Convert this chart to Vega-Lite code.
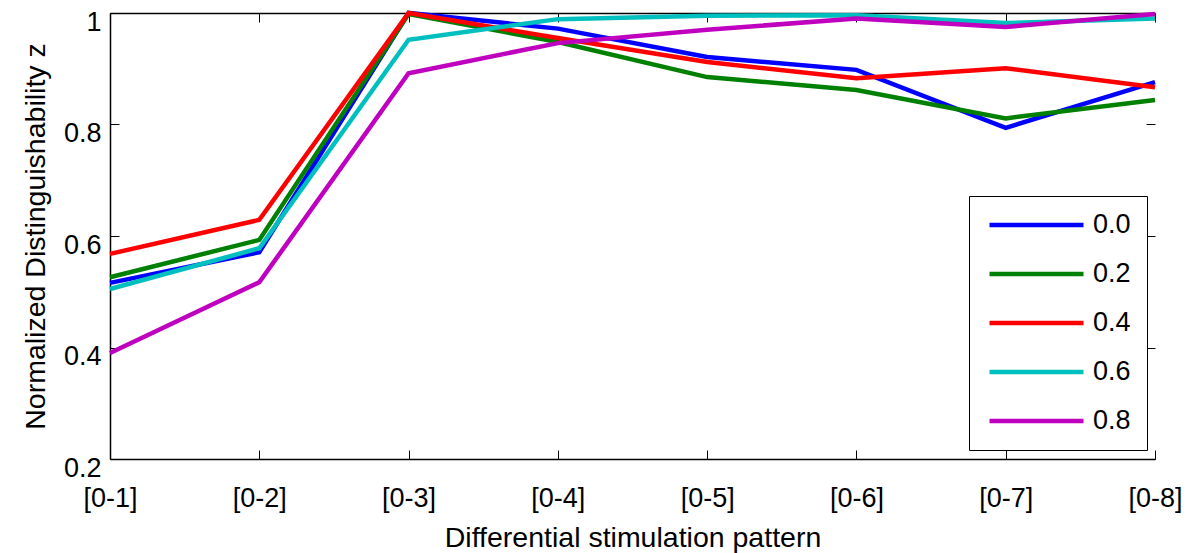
{
  "$schema": "https://vega.github.io/schema/vega-lite/v6.json",
  "width": 1045,
  "height": 446,
  "autosize": {"type": "none"},
  "padding": {"left": 110, "top": 13, "right": 40, "bottom": 94},
  "background": "white",
  "config": {
    "view": {"stroke": null},
    "font": "Liberation Sans",
    "axis": {"grid": false, "domainColor": "black", "tickColor": "black", "labelColor": "black", "titleColor": "black", "labelFont": "Liberation Sans", "titleFont": "Liberation Sans", "titleFontWeight": "normal", "labelFontSize": 27, "titleFontSize": 28.5}
  },
  "data": {"values": [
    {"p": "[0-1]", "s": "0.0", "v": 0.516}, {"p": "[0-2]", "s": "0.0", "v": 0.571}, {"p": "[0-3]", "s": "0.0", "v": 1.0}, {"p": "[0-4]", "s": "0.0", "v": 0.972}, {"p": "[0-5]", "s": "0.0", "v": 0.921}, {"p": "[0-6]", "s": "0.0", "v": 0.898}, {"p": "[0-7]", "s": "0.0", "v": 0.794}, {"p": "[0-8]", "s": "0.0", "v": 0.876},
    {"p": "[0-1]", "s": "0.2", "v": 0.526}, {"p": "[0-2]", "s": "0.2", "v": 0.593}, {"p": "[0-3]", "s": "0.2", "v": 0.998}, {"p": "[0-4]", "s": "0.2", "v": 0.948}, {"p": "[0-5]", "s": "0.2", "v": 0.885}, {"p": "[0-6]", "s": "0.2", "v": 0.862}, {"p": "[0-7]", "s": "0.2", "v": 0.811}, {"p": "[0-8]", "s": "0.2", "v": 0.844},
    {"p": "[0-1]", "s": "0.4", "v": 0.568}, {"p": "[0-2]", "s": "0.4", "v": 0.629}, {"p": "[0-3]", "s": "0.4", "v": 1.0}, {"p": "[0-4]", "s": "0.4", "v": 0.955}, {"p": "[0-5]", "s": "0.4", "v": 0.912}, {"p": "[0-6]", "s": "0.4", "v": 0.883}, {"p": "[0-7]", "s": "0.4", "v": 0.901}, {"p": "[0-8]", "s": "0.4", "v": 0.867},
    {"p": "[0-1]", "s": "0.6", "v": 0.505}, {"p": "[0-2]", "s": "0.6", "v": 0.578}, {"p": "[0-3]", "s": "0.6", "v": 0.952}, {"p": "[0-4]", "s": "0.6", "v": 0.989}, {"p": "[0-5]", "s": "0.6", "v": 0.995}, {"p": "[0-6]", "s": "0.6", "v": 0.996}, {"p": "[0-7]", "s": "0.6", "v": 0.982}, {"p": "[0-8]", "s": "0.6", "v": 0.99},
    {"p": "[0-1]", "s": "0.8", "v": 0.39}, {"p": "[0-2]", "s": "0.8", "v": 0.517}, {"p": "[0-3]", "s": "0.8", "v": 0.892}, {"p": "[0-4]", "s": "0.8", "v": 0.946}, {"p": "[0-5]", "s": "0.8", "v": 0.97}, {"p": "[0-6]", "s": "0.8", "v": 0.99}, {"p": "[0-7]", "s": "0.8", "v": 0.975}, {"p": "[0-8]", "s": "0.8", "v": 0.998}
  ]},
  "resolve": {"axis": {"x": "independent", "y": "independent"}},
  "layer": [
    {
      "mark": {"type": "line", "strokeWidth": 4.5, "opacity": 0},
      "encoding": {
        "x": {"field": "p", "type": "ordinal", "scale": {"type": "point", "padding": 0},
              "axis": {"orient": "top", "labels": false, "title": null, "tickSize": -9, "domainWidth": 1.5}},
        "y": {"field": "v", "type": "quantitative", "scale": {"domain": [0.2, 1.0], "nice": false, "zero": false},
              "axis": {"orient": "right", "labels": false, "title": null, "domain": false, "tickSize": -9, "values": [0.2, 0.4, 0.6, 0.8, 1.0]}},
        "detail": {"field": "s"}
      }
    },
    {
      "mark": {"type": "line", "strokeWidth": 4.5},
      "encoding": {
        "x": {"field": "p", "type": "ordinal", "scale": {"type": "point", "padding": 0},
              "axis": {"orient": "bottom", "title": "Differential stimulation pattern", "labelAngle": 0, "tickSize": -9, "labelPadding": 35, "titlePadding": 12, "domainWidth": 1.5}},
        "y": {"field": "v", "type": "quantitative", "scale": {"domain": [0.2, 1.0], "nice": false, "zero": false},
              "axis": {"orient": "left", "title": "Normalized Distinguishability  z", "values": [0.2, 0.4, 0.6, 0.8, 1.0], "format": "~g", "tickSize": -9, "labelPadding": 18, "labelOffset": 9, "titlePadding": 13, "domainWidth": 1.5}},
        "color": {"field": "s", "type": "nominal",
                  "scale": {"domain": ["0.0", "0.2", "0.4", "0.6", "0.8"], "range": ["#0000FF", "#008000", "#FF0000", "#00BFBF", "#BF00BF"]},
                  "legend": {"orient": "none", "legendX": 859, "legendY": 183, "title": null, "strokeColor": "black", "fillColor": "white", "padding": 15.5, "symbolType": "M-4.7,0H4.7", "symbolSize": 400, "symbolStrokeWidth": 4.5, "symbolOffset": 38.5, "labelOffset": 43, "rowPadding": 21, "labelFontSize": 27, "labelFont": "Liberation Sans", "labelColor": "black"}}
      }
    }
  ]
}
